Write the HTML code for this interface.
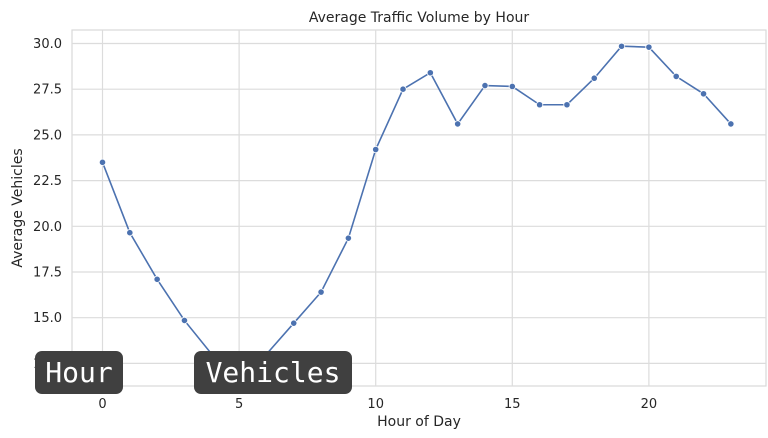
<!DOCTYPE html>
<html><head><meta charset="utf-8"><style>
body{margin:0;background:#fff;width:768px;height:438px;overflow:hidden;font-family:"DejaVu Sans","Liberation Sans",sans-serif}
.tag{position:absolute;background:#404040;color:#fff;border-radius:7px;font-family:"DejaVu Sans Mono","Liberation Mono",monospace;font-size:28px;line-height:43px;text-align:center}
</style></head><body>
<svg id="chart" width="768" height="438" style="position:absolute;left:0;top:0" font-family="DejaVu Sans, Liberation Sans, sans-serif"></svg>
<div class="tag" style="left:35px;top:351px;width:88px;height:43px">Hour</div>
<div class="tag" style="left:194px;top:351px;width:158px;height:43px">Vehicles</div>
<script>
const hours=[0,1,2,3,4,5,6,7,8,9,10,11,12,13,14,15,16,17,18,19,20,21,22,23];
const vehicles=[23.5,19.65,17.1,14.85,13.0,12.3,13.0,14.7,16.4,19.35,24.2,27.5,28.4,25.6,27.7,27.65,26.65,26.65,28.1,29.85,29.8,28.2,27.25,25.6];
const xTicks=[0,5,10,15,20];
const yTicks=[12.5,15.0,17.5,20.0,22.5,25.0,27.5,30.0];
const svg=document.getElementById('chart');
const NS='http://www.w3.org/2000/svg';
const L=72,R=766,T=30,B=386;
const x=h=>102.5+h*27.32;
const y=v=>43.5+(30-v)*18.28;
function el(t,a,p){const e=document.createElementNS(NS,t);for(const k in a)e.setAttribute(k,a[k]);(p||svg).appendChild(e);return e;}
const bg=el('rect',{x:L,y:T,width:R-L,height:B-T,fill:'#fff',stroke:'#d9d9d9','stroke-width':1.2});


xTicks.forEach(t=>{
 const g=el('line',{x1:x(t),x2:x(t),y1:T,y2:B,stroke:'#dcdcdc','stroke-width':1.2});
 
 
 const l=el('text',{x:x(t),y:408,'font-size':13,'text-anchor':'middle',fill:'#262626'});l.textContent=t;
 
 
});
yTicks.forEach(t=>{
 const g=el('line',{x1:L,x2:R,y1:y(t),y2:y(t),stroke:'#dcdcdc','stroke-width':1.2});
 
 
 const l=el('text',{x:62,y:y(t)+4.5,'font-size':13,'text-anchor':'end',fill:'#262626'});l.textContent=t.toFixed(1);
 
 
});
const line=el('polyline',{points:hours.map((h,i)=>x(h)+','+y(vehicles[i])).join(' '),fill:'none',stroke:'#4c72b0','stroke-width':1.6});


hours.forEach((h,i)=>{
 const c=el('circle',{cx:x(h),cy:y(vehicles[i]),r:3.2,fill:'#4c72b0',stroke:'#fff','stroke-width':0.8});
 
 
});
const tt=el('text',{x:419,y:22,'font-size':14,'text-anchor':'middle',fill:'#262626'});tt.textContent='Average Traffic Volume by Hour';


const xt=el('text',{x:419,y:426,'font-size':14,'text-anchor':'middle',fill:'#262626'});xt.textContent='Hour of Day';


const yt=el('text',{x:0,y:0,'font-size':14,'text-anchor':'middle',fill:'#262626',transform:'translate(22,208) rotate(-90)'});yt.textContent='Average Vehicles';


</script>
</body></html>
